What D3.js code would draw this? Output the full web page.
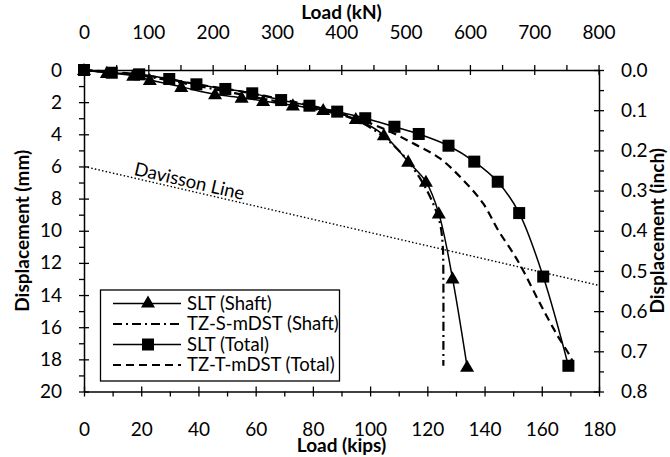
<!DOCTYPE html>
<html>
<head>
<meta charset="utf-8">
<script src="https://cdn.jsdelivr.net/npm/d3@7"></script>
<style>
  html, body { margin: 0; padding: 0; background: #fff; }
  svg { display: block; font-family: Lato, "Open Sans", sans-serif; }
</style>
</head>
<body>
<svg id="chart" width="670" height="457"></svg>
<script>
// ---------------- data ----------------
const sltTotalLoad = [0, 9.7, 19.3, 29.8, 39.3, 49.4, 58.8, 68.9, 78.8, 88.5, 98.3, 108.5, 117.0, 127.4, 136.4, 144.6, 152.1, 160.5, 169.3];
const sltTotalDisp = [0, 0.17, 0.27, 0.56, 0.89, 1.18, 1.45, 1.87, 2.22, 2.59, 3.0, 3.53, 3.98, 4.71, 5.7, 6.95, 8.9, 12.85, 18.4];

const sltShaftLoad = [0, 8.0, 17.2, 23.0, 34.0, 45.8, 55.1, 62.6, 73.0, 83.6, 95.0, 104.8, 113.3, 119.5, 124.0, 128.8, 133.9];
const sltShaftDisp = [0, 0.18, 0.35, 0.62, 1.05, 1.51, 1.72, 1.93, 2.2, 2.49, 3.05, 4.05, 5.7, 6.95, 8.92, 12.96, 18.46];

const tzShaftLoad = [0, 20, 40, 60, 80, 95, 105, 112, 118, 122, 124.5, 125.4, 125.6, 125.6];
const tzShaftDisp = [0, 0.35, 1.0, 1.7, 2.4, 3.1, 4.2, 5.4, 6.9, 8.3, 9.6, 11.0, 13.0, 18.4];

const tzTotalLoad = [0, 20, 40, 60, 80, 95, 105.7, 115, 124.4, 132.5, 139.5, 144.7, 150, 153.4, 159.3, 165.1, 170.3, 171.0];
const tzTotalDisp = [0, 0.3, 0.9, 1.5, 2.25, 3.0, 3.73, 4.56, 5.5, 6.84, 8.3, 9.95, 11.4, 12.44, 14.5, 16.4, 17.94, 18.3];

const davissonLoad = [0, 180];
const davissonDisp = [6.0, 13.4];

const kipsTicks = [0, 20, 40, 60, 80, 100, 120, 140, 160, 180];
const knTicks = [0, 100, 200, 300, 400, 500, 600, 700, 800];
const mmTicks = [0, 2, 4, 6, 8, 10, 12, 14, 16, 18, 20];
const inchTicks = [0, 0.1, 0.2, 0.3, 0.4, 0.5, 0.6, 0.7, 0.8];

const seriesNames = ["SLT (Shaft)", "TZ-S-mDST (Shaft)", "SLT (Total)", "TZ-T-mDST (Total)"];

// ---------------- layout ----------------
const L = 84, R = 599, T = 70, B = 391.5;
const KN_PER_KIP = 4.44822;

const svg = d3.select("#chart");
const x = d3.scaleLinear().domain([0, 180]).range([L, R]);
const xKN = d3.scaleLinear().domain([0, 180 * KN_PER_KIP]).range([L, R]);
const y = d3.scaleLinear().domain([0, 20]).range([T, B]);
const yIn = d3.scaleLinear().domain([0, 0.8]).range([T, B]);

const fs = 19;     // tick labels
const fsTitle = 19;
const fsLegend = 18.5;

// ---------------- axes ----------------
function styleAxis(g) {
  g.select(".domain").attr("stroke", "#000").attr("stroke-width", 1.5);
  g.selectAll(".tick line").attr("stroke", "#000").attr("stroke-width", 1.3);
  g.selectAll("text").attr("font-size", fs).attr("fill", "#000").attr("font-family", "Lato, sans-serif");
}
function minor(axisFn, scale, vals, tr) {
  const g = svg.append("g").attr("transform", tr)
    .call(axisFn(scale).tickValues(vals).tickSize(5).tickFormat(""));
  g.select(".domain").remove();
  g.selectAll(".tick line").attr("stroke", "#000").attr("stroke-width", 1.3);
}
minor(d3.axisBottom, x, d3.range(10, 180, 20), `translate(0,${B})`);
minor(d3.axisTop, xKN, d3.range(50, 800, 100), `translate(0,${T})`);
minor(d3.axisLeft, y, d3.range(1, 20, 2), `translate(${L},0)`);
minor(d3.axisRight, yIn, d3.range(0.05, 0.8, 0.1), `translate(${R},0)`);

const gB = svg.append("g").attr("transform", `translate(0,${B})`)
  .call(d3.axisBottom(x).tickValues(kipsTicks).tickSize(5).tickSizeOuter(0).tickPadding(26).tickFormat(d3.format("d")));
styleAxis(gB);
gB.selectAll(".tick line").attr("y1", -5);

const gT = svg.append("g").attr("transform", `translate(0,${T})`)
  .call(d3.axisTop(xKN).tickValues(knTicks).tickSize(5).tickSizeOuter(0).tickPadding(26).tickFormat(d3.format("d")));
styleAxis(gT);
gT.selectAll(".tick line").attr("y1", 5);

const gL = svg.append("g").attr("transform", `translate(${L},0)`)
  .call(d3.axisLeft(y).tickValues(mmTicks).tickSize(5).tickSizeOuter(0).tickPadding(17).tickFormat(d3.format("d")));
styleAxis(gL);
gL.selectAll(".tick line").attr("x1", 5);

const gR = svg.append("g").attr("transform", `translate(${R},0)`)
  .call(d3.axisRight(yIn).tickValues(inchTicks).tickSize(5).tickSizeOuter(0).tickPadding(17).tickFormat(d3.format(".1f")));
styleAxis(gR);
gR.selectAll(".tick line").attr("x1", -5);

// axis titles
svg.append("text").attr("x", (L + R) / 2).attr("y", 19).attr("text-anchor", "middle")
  .attr("font-size", fsTitle).attr("font-weight", "bold").text("Load (kN)");
svg.append("text").attr("x", (L + R) / 2).attr("y", 452).attr("text-anchor", "middle")
  .attr("font-size", fsTitle).attr("font-weight", "bold").text("Load (kips)");
svg.append("text").attr("transform", `translate(29,${(T + B) / 2}) rotate(-90)`).attr("text-anchor", "middle")
  .attr("font-size", fsTitle).attr("font-weight", "bold").text("Displacement (mm)");
svg.append("text").attr("transform", `translate(664,${(T + B) / 2}) rotate(-90)`).attr("text-anchor", "middle")
  .attr("font-size", fsTitle).attr("font-weight", "bold").text("Displacement (inch)");

// ---------------- data lines ----------------
const zip = (a, b) => a.map((v, i) => [v, b[i]]);
const line = d3.line().x(d => x(d[0])).y(d => y(d[1])).curve(d3.curveCatmullRom.alpha(0.5));

const plot = svg.append("g");

// Davisson line
const dav = zip(davissonLoad, davissonDisp);
plot.append("path").attr("d", d3.line().x(d => x(d[0])).y(d => y(d[1]))(dav))
  .attr("fill", "none").attr("stroke", "#000").attr("stroke-width", 1.4).attr("stroke-dasharray", "1.5,2.2");
{
  const lx = 17.0;
  const ly = davissonDisp[0] + (davissonDisp[1] - davissonDisp[0]) * lx / 180;
  const ang = Math.atan2(y(davissonDisp[1]) - y(davissonDisp[0]), x(180) - x(0)) * 180 / Math.PI;
  plot.append("text").attr("transform", `translate(${x(lx)},${y(ly)}) rotate(${ang})`)
    .attr("dy", -3).attr("font-size", 18.5).text("Davisson Line");
}

const tzT = zip(tzTotalLoad, tzTotalDisp);
const tzS = zip(tzShaftLoad, tzShaftDisp);
const sT = zip(sltTotalLoad, sltTotalDisp);
const sS = zip(sltShaftLoad, sltShaftDisp);

plot.append("path").attr("d", line(tzT)).attr("fill", "none").attr("stroke", "#000")
  .attr("stroke-width", 2.2).attr("stroke-dasharray", "8,5");
plot.append("path").attr("d", line(tzS)).attr("fill", "none").attr("stroke", "#000")
  .attr("stroke-width", 2.2).attr("stroke-dasharray", "9,4,2,4");
plot.append("path").attr("d", line(sS)).attr("fill", "none").attr("stroke", "#000").attr("stroke-width", 1.5);
plot.append("path").attr("d", line(sT)).attr("fill", "none").attr("stroke", "#000").attr("stroke-width", 1.5);

const tri = d3.symbol().type(d3.symbolTriangle).size(85);
plot.selectAll(".tri").data(sS).join("path").attr("class", "tri")
  .attr("transform", d => `translate(${x(d[0])},${y(d[1]) + 1})`).attr("d", tri).attr("fill", "#000");
const sqSize = 12;
plot.selectAll(".sq").data(sT).join("rect").attr("class", "sq")
  .attr("x", d => x(d[0]) - sqSize / 2).attr("y", d => y(d[1]) - sqSize / 2)
  .attr("width", sqSize).attr("height", sqSize).attr("fill", "#000");

// ---------------- legend ----------------
const lg = svg.append("g");
const lgX = 100.5, lgY = 290, lgW = 239, lgH = 91;
lg.append("rect").attr("x", lgX).attr("y", lgY).attr("width", lgW).attr("height", lgH)
  .attr("fill", "#fff").attr("stroke", "#000").attr("stroke-width", 1.3);
const rowY = [303.5, 324, 344.5, 365];
const styles = [
  { dash: null, w: 1.5, marker: "tri" },
  { dash: "9,4,2,4", w: 2.2, marker: null },
  { dash: null, w: 1.5, marker: "sq" },
  { dash: "8,5", w: 2.2, marker: null }
];
seriesNames.forEach((name, i) => {
  const s = styles[i], yy = rowY[i];
  const p = lg.append("line").attr("x1", 113).attr("x2", 181).attr("y1", yy).attr("y2", yy)
    .attr("stroke", "#000").attr("stroke-width", s.w);
  if (s.dash) p.attr("stroke-dasharray", s.dash);
  if (s.marker === "tri") lg.append("path").attr("d", tri).attr("transform", `translate(148,${yy})`).attr("fill", "#000");
  if (s.marker === "sq") lg.append("rect").attr("x", 148 - sqSize / 2).attr("y", yy - sqSize / 2)
    .attr("width", sqSize).attr("height", sqSize).attr("fill", "#000");
  lg.append("text").attr("x", 187).attr("y", yy).attr("dy", "0.35em").attr("font-size", fsLegend).text(name);
});
</script>
</body>
</html>
